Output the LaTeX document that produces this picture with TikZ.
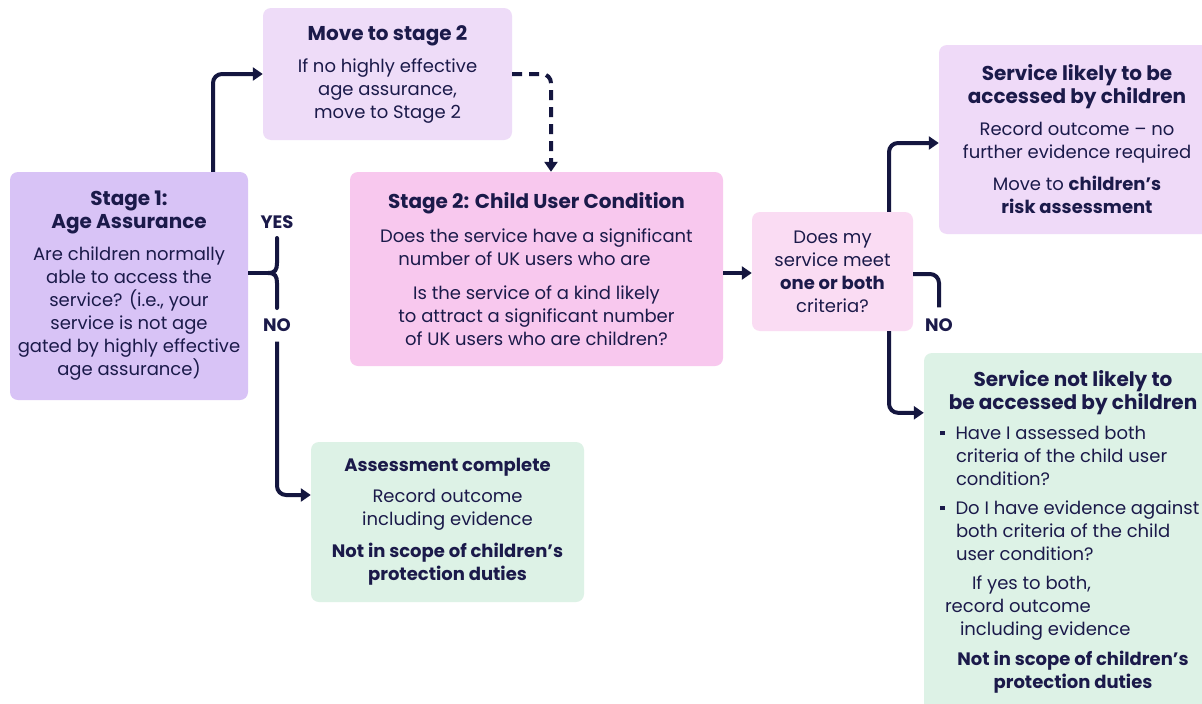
\documentclass[tikz,border=0pt]{standalone}
\usepackage{fontspec}
\setmainfont{Poppins}
\usetikzlibrary{arrows.meta,calc}
\definecolor{ink}{HTML}{1B1A4A}
\definecolor{lineC}{HTML}{14163F}
\definecolor{cSone}{HTML}{D8C3F6}
\definecolor{cMove}{HTML}{EEDCF8}
\definecolor{cStwo}{HTML}{F8C8EE}
\definecolor{cDm}{HTML}{FADCF3}
\definecolor{cLk}{HTML}{EFDAF8}
\definecolor{cMint}{HTML}{DDF2E6}
\newcommand{\sqb}{\rule[4.5pt]{4.5pt}{4.5pt}}
\newcommand{\lline}[1]{\makebox[266pt][l]{#1}}
\newcommand{\hd}[1]{{\fontsize{20}{23}\selectfont\bfseries #1}}
\begin{document}
\begin{tikzpicture}[x=1pt,y=-1pt,
  box/.style={rounded corners=8pt,inner sep=0pt,align=center,text=ink,
    font=\fontsize{18}{23}\selectfont},
  conn/.style={draw=lineC,line width=4pt,rounded corners=9pt},
  arr/.style={conn,-{Triangle[length=10pt,width=13pt]}},
  lbl/.style={text=ink,font=\fontsize{18}{20}\selectfont\bfseries,inner sep=2pt},
]
\useasboundingbox[fill=white] (0,0) rectangle (1202,704);

\node[box,fill=cSone,minimum width=238pt,minimum height=228pt] (s1) at (129,286)
  {\hd{Stage 1:}\\ \hd{Age Assurance}\\[9pt]
   Are children normally\\ able to access the\\ service? (i.e., your\\
   service is not age\\ gated by highly effective\\ age assurance)};

\node[box,fill=cMove,minimum width=249pt,minimum height=132pt] (mv) at (387.5,74)
  {\hd{Move to stage 2}\\[9pt] If no highly effective\\ age assurance,\\ move to Stage 2};

\node[box,fill=cStwo,minimum width=373pt,minimum height=194pt] (s2) at (536.5,269)
  {\hd{Stage 2: Child User Condition}\\[11pt]
   Does the service have a significant\\
   number of UK users who are\hspace{24pt}\mbox{}\\[11pt]
   Is the service of a kind likely\\ to attract a significant number\\
   of UK users who are children?};

\node[box,fill=cDm,minimum width=161pt,minimum height=119pt] (dm) at (832.5,271.5)
  {Does my\\ service meet\\ \textbf{one or both}\\ criteria?};

\node[box,fill=cLk,minimum width=276pt,minimum height=189pt] (lk) at (1077,139.5)
  {\hd{Service likely to be}\\ \hd{accessed by children}\\[9pt]
   Record outcome – no\\ further evidence required\\[9pt]
   Move to \textbf{children’s}\\ \textbf{risk assessment}};

\node[box,fill=cMint,minimum width=298pt,minimum height=358pt] (nl) at (1073,532)
  {\hd{Service not likely to}\\ \hd{be accessed by children}\\[7pt]
   \lline{\sqb\hspace{11pt}Have I assessed both}\\
   \lline{\hspace{16pt}criteria of the child user}\\
   \lline{\hspace{16pt}condition?}\\[6pt]
   \lline{\sqb\hspace{11pt}Do I have evidence against}\\
   \lline{\hspace{16pt}both criteria of the child}\\
   \lline{\hspace{16pt}user condition?}\\[6pt]
   \lline{\hspace{32pt}If yes to both,}\\
   \lline{\hspace{5pt}record outcome}\\
   \lline{\hspace{20pt}including evidence}\\[7pt]
   \textbf{Not in scope of children’s}\\ \textbf{protection duties}};

\node[box,fill=cMint,minimum width=273pt,minimum height=160pt] (ac) at (447.5,522)
  {\textbf{Assessment complete}\\[8pt] Record outcome\\ including evidence\\[9pt]
   \textbf{Not in scope of children’s}\\ \textbf{protection duties}};

\node[lbl] (yes) at (277,222) {YES};
\node[lbl] (no) at (277,325) {NO};
\node[lbl] (notwo) at (939,325) {NO};

\coordinate (br) at (277,273);

% connectors
\draw[arr] ([xshift=84pt]s1.north) |- (mv.west);
\draw[arr,dash pattern=on 10pt off 7pt] (mv.east) -| ([xshift=14.5pt]s2.north);
\draw[conn,rounded corners=0pt,line cap=round]
  ([yshift=35pt]br) -- ([yshift=10pt]br)
  .. controls ([yshift=3pt]br) and ([xshift=-2pt]br) .. ([xshift=-9pt]br)
  .. controls ([xshift=-2pt]br) and ([yshift=-3pt]br) .. ([yshift=-10pt]br)
  -- ([yshift=-35pt]br);
\draw[conn,rounded corners=0pt] ([xshift=-9pt]br) -- (s1.east |- br);
\draw[arr] ([yshift=-8pt]no.south) |- ([yshift=27pt]ac.west);
\draw[arr] ([yshift=-4pt]s2.east) -- ([yshift=-4pt]s2.east -| dm.west);
\draw[arr] ([xshift=56.5pt]dm.north) |- ([yshift=-3.5pt]lk.west);
\draw[conn] ([yshift=-2.5pt]dm.east) -| ([yshift=9pt]notwo.north);
\draw[arr] ([xshift=56.5pt]dm.south) |- ([yshift=-60pt]nl.north west);
\end{tikzpicture}
\end{document}
